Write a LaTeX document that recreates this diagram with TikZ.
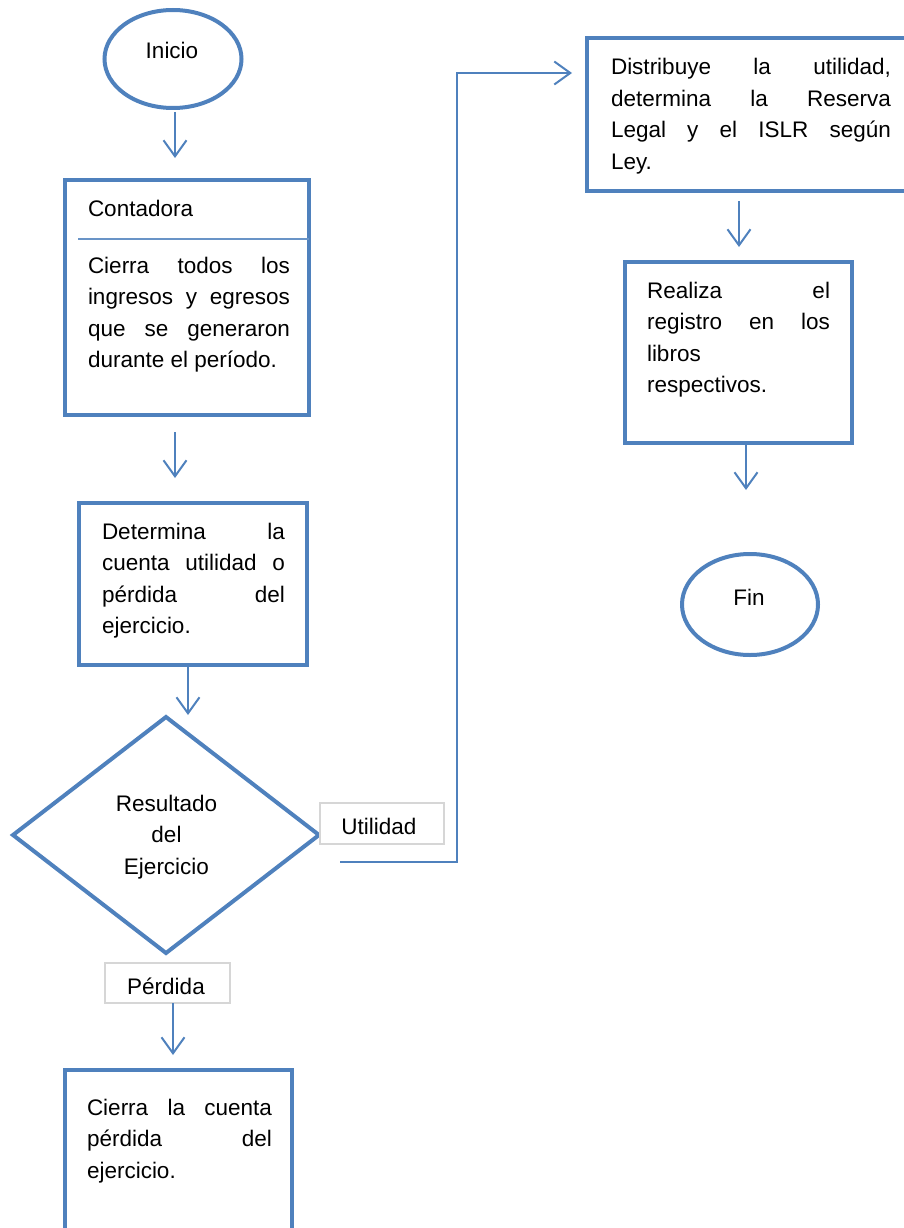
\documentclass[tikz,border=0pt]{standalone}
\usepackage{fontspec}
\setmainfont{Liberation Sans}
\usetikzlibrary{arrows.meta,shapes.geometric,calc}
\definecolor{flowblue}{HTML}{4F81BD}
\definecolor{tagline}{HTML}{D6D6D6}
% a block of lines whose baseline is the first line's baseline
\newcommand\txtlines[1]{\vtop{\baselineskip=31.5pt\lineskiplimit=-100pt #1}}
% a line stretched to a given width
\newcommand\jrow[2]{\hbox to #1{#2}}
\begin{document}
\begin{tikzpicture}[x=1pt,y=-1pt,
  box/.style={draw=flowblue, line width=4.5pt, rectangle, inner sep=0pt, outer sep=0pt},
  term/.style={draw=flowblue, line width=4pt, ellipse, inner sep=0pt, outer sep=0pt},
  decide/.style={draw=flowblue, line width=4pt, diamond, inner sep=0pt, outer sep=0pt},
  tag/.style={draw=tagline, line width=1.5pt, fill=white, rectangle, inner sep=0pt, outer sep=0pt},
  arr/.style={draw=flowblue, line width=2pt, -{Straight Barb[length=16pt,width=23pt]}},
  txt/.style={inner sep=0pt, outer sep=0pt, anchor=base west, font=\fontsize{22.5}{31.5}\selectfont},
  ctxt/.style={inner sep=0pt, outer sep=0pt, anchor=base, font=\fontsize{22.5}{31.5}\selectfont}]
\useasboundingbox (0,0) rectangle (903,1228);

% shapes
\node[term, minimum width=137pt, minimum height=98pt] (inicio) at (173,59) {};
\node[box, minimum width=244pt, minimum height=235pt] (contadora) at (187,297.5) {};
\node[box, minimum width=228pt, minimum height=162pt] (determina) at (193,584) {};
\node[decide, minimum width=306pt, minimum height=236pt] (decision) at (166,835) {};
\node[tag, minimum width=124pt, minimum height=41pt] (utiltag) at (382,823.5) {};
\node[tag, minimum width=125pt, minimum height=40pt] (perdtag) at (167.5,983) {};
\node[box, minimum width=227pt, minimum height=165pt] (cierre) at (178.5,1152.5) {};
\node[box, minimum width=321pt, minimum height=153pt] (distrib) at (747.5,114.5) {};
\node[box, minimum width=227pt, minimum height=181pt] (realiza) at (738.5,352.5) {};
\node[term, minimum width=136pt, minimum height=101pt] (fin) at (750,604.5) {};

% header rule in the first box
\draw[flowblue!85, line width=1.5pt] ($(contadora.north west)+(13,59)$) -- ($(contadora.north east)+(0,59)$);

% texts
\node[ctxt] (tinicio) at (172,59) {Inicio};
\node[txt] (tcont) at (88,216) {Contadora};
\node[txt] (tcierra) at (88,273) {\txtlines{%
  \jrow{202pt}{Cierra\hfill todos\hfill los}
  \jrow{202pt}{ingresos\hfill y\hfill egresos}
  \jrow{202pt}{que\hfill se\hfill generaron}
  \hbox{durante el período.}}};
\node[txt] (tdet) at (102,539) {\txtlines{%
  \jrow{183pt}{Determina\hfill la}
  \jrow{183pt}{cuenta\hfill utilidad\hfill o}
  \jrow{183pt}{pérdida\hfill del}
  \hbox{ejercicio.}}};
\node[ctxt] (tdec) at (166.5,811) {\txtlines{%
  \hbox to 0pt{\hss Resultado\hss}
  \hbox to 0pt{\hss del\hss}
  \hbox to 0pt{\hss Ejercicio\hss}}};
\node[ctxt] (tutil) at (379,834) {Utilidad};
\node[ctxt] (tperd) at (166,994) {Pérdida};
\node[txt] (tcierre) at (87,1115) {\txtlines{%
  \jrow{185pt}{Cierra\hfill la\hfill cuenta}
  \jrow{185pt}{pérdida\hfill del}
  \hbox{ejercicio.}}};
\node[txt] (tdist) at (611,75) {\txtlines{%
  \jrow{280pt}{Distribuye\hfill la\hfill utilidad,}
  \jrow{280pt}{determina\hfill la\hfill Reserva}
  \jrow{280pt}{Legal\hfill y\hfill el\hfill ISLR\hfill según}
  \hbox{Ley.}}};
\node[txt] (treal) at (647,298) {\txtlines{%
  \jrow{183pt}{Realiza\hfill el}
  \jrow{183pt}{registro\hfill en\hfill los}
  \hbox{libros}
  \hbox{respectivos.}}};
\node[ctxt] (tfin) at (749,605) {Fin};

% connectors
\draw[arr] ([xshift=2pt,yshift=-4pt]inicio.south) -- ++(0,46);
\draw[arr] ([xshift=-12pt,yshift=-17pt]contadora.south) -- ++(0,46);
\draw[arr] ([xshift=-5pt]determina.south) -- ++(0,50);
\draw[arr] ([xshift=21pt,yshift=-27pt]decision.east) -- ++(117,0)
  |- ([xshift=-15pt,yshift=41.5pt]distrib.west);
\draw[arr] ([xshift=5.5pt]perdtag.south) -- ++(0,52);
\draw[arr] ([xshift=-8.5pt,yshift=-10pt]distrib.south) -- ++(0,46);
\draw[arr] ([xshift=7.5pt]realiza.south) -- ++(0,47);
\end{tikzpicture}
\end{document}
